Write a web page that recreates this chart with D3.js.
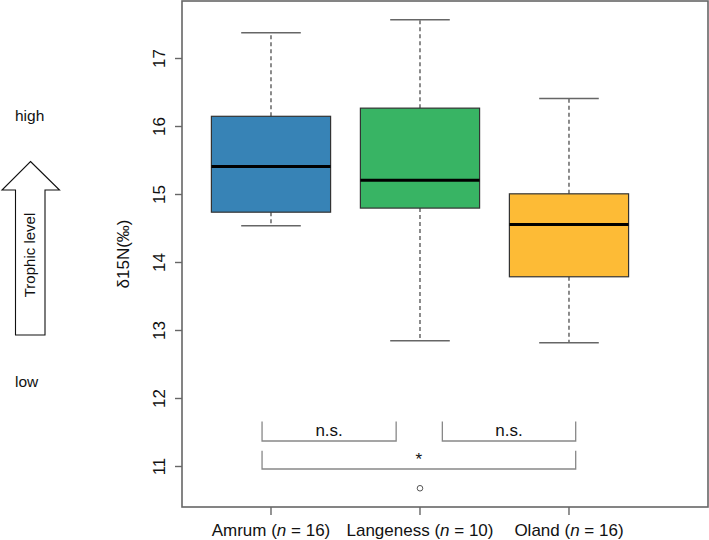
<!DOCTYPE html>
<html><head><meta charset="utf-8">
<script src="https://cdn.jsdelivr.net/npm/d3@7"></script>
<style>body{margin:0;background:#fff}svg{display:block}text{font-family:"Liberation Sans",Arial,sans-serif}</style>
</head><body><svg id="c" width="709" height="540"></svg>
<script>
// ---- data ----
const categories = ["Amrum", "Langeness", "Oland"];
const sampleSizes = [16, 10, 16];
const whiskerLow  = [14.54, 12.85, 12.82];
const q1          = [14.74, 14.80, 13.79];
const medians     = [15.41, 15.21, 14.56];
const q3          = [16.15, 16.27, 15.01];
const whiskerHigh = [17.38, 17.57, 16.41];
const outliers    = [[], [10.68], []];
const boxColors   = ["#3783b6", "#38b464", "#fdbb36"];
const yTicks      = [11, 12, 13, 14, 15, 16, 17];
// significance brackets: [from category pos, to category pos, label, top value, bar value]
const brackets = [
  [0.94, 1.84, "n.s.", 11.66, 11.375],
  [2.15, 3.045, "n.s.", 11.66, 11.375],
  [0.94, 3.045, "*", 11.23, 10.963]
];

const svg = d3.select("#c");
const L = 182, R = 708, T = 1, B = 507;

const allVals = whiskerLow.concat(whiskerHigh, outliers.flat());
const lo = d3.min(allVals), hi = d3.max(allVals), ext = (hi - lo) * 0.04;
const y = d3.scaleLinear().domain([lo - ext, hi + ext]).range([B, T]);
const x = d3.scaleLinear().domain([0.4027, 3.933]).range([L, R]);
const bw = 0.4, cap = 0.2;

// boxes
categories.forEach((c, i) => {
  const p = i + 1;
  const g = svg.append("g");
  // whiskers dashed
  g.append("line").attr("x1", x(p)).attr("x2", x(p)).attr("y1", y(q3[i])).attr("y2", y(whiskerHigh[i]))
    .attr("stroke", "#666").attr("stroke-width", 1.5).attr("stroke-dasharray", "4,3");
  g.append("line").attr("x1", x(p)).attr("x2", x(p)).attr("y1", y(q1[i])).attr("y2", y(whiskerLow[i]))
    .attr("stroke", "#666").attr("stroke-width", 1.5).attr("stroke-dasharray", "4,3");
  // caps
  [whiskerHigh[i], whiskerLow[i]].forEach(v => {
    g.append("line").attr("x1", x(p - cap)).attr("x2", x(p + cap)).attr("y1", y(v)).attr("y2", y(v))
      .attr("stroke", "#666").attr("stroke-width", 1.5);
  });
  // box
  g.append("rect").attr("x", x(p - bw)).attr("width", x(p + bw) - x(p - bw))
    .attr("y", y(q3[i])).attr("height", y(q1[i]) - y(q3[i]))
    .attr("fill", boxColors[i]).attr("stroke", "#333").attr("stroke-width", 1.2);
  // median
  g.append("line").attr("x1", x(p - bw)).attr("x2", x(p + bw)).attr("y1", y(medians[i])).attr("y2", y(medians[i]))
    .attr("stroke", "#000").attr("stroke-width", 3);
  // outliers
  outliers[i].forEach(v => {
    g.append("circle").attr("cx", x(p)).attr("cy", y(v)).attr("r", 2.8)
      .attr("fill", "#fff").attr("stroke", "#555").attr("stroke-width", 1);
  });
});

// brackets
brackets.forEach(b => {
  const [a, e, lab, top, bar] = b;
  svg.append("path")
    .attr("d", `M${x(a)},${y(top)}V${y(bar)}H${x(e)}V${y(top)}`)
    .attr("fill", "none").attr("stroke", "#888").attr("stroke-width", 1.3);
  svg.append("text").attr("x", (x(a) + x(e)) / 2)
    .attr("y", lab === "*" ? y(top) + 14 : y(top) + 14.5)
    .attr("text-anchor", "middle").attr("font-size", 17).attr("fill", "#111").text(lab);
});

// frame
svg.append("rect").attr("x", L).attr("y", T).attr("width", R - L).attr("height", B - T)
  .attr("fill", "none").attr("stroke", "#666").attr("stroke-width", 1.6);

// y axis ticks + labels
yTicks.forEach(t => {
  svg.append("line").attr("x1", L - 7).attr("x2", L).attr("y1", y(t)).attr("y2", y(t))
    .attr("stroke", "#666").attr("stroke-width", 1.4);
  svg.append("text").attr("transform", `translate(165,${y(t)}) rotate(-90)`)
    .attr("text-anchor", "middle").attr("font-size", 17).attr("fill", "#111").text(t);
});
svg.append("text").attr("transform", `translate(129,${(T + B) / 2}) rotate(-90)`)
  .attr("text-anchor", "middle").attr("font-size", 17).attr("fill", "#111").text("δ15N(‰)");

// x axis ticks + labels
categories.forEach((c, i) => {
  const p = i + 1;
  svg.append("line").attr("x1", x(p)).attr("x2", x(p)).attr("y1", B).attr("y2", B + 8)
    .attr("stroke", "#666").attr("stroke-width", 1.4);
  const t = svg.append("text").attr("x", x(p)).attr("y", 536).attr("text-anchor", "middle")
    .attr("font-size", 17).attr("fill", "#111");
  t.append("tspan").text(c + " (");
  t.append("tspan").attr("font-style", "italic").text("n");
  t.append("tspan").text(" = " + sampleSizes[i] + ")");
});

// trophic level annotation
svg.append("text").attr("x", 15).attr("y", 120.5).attr("font-size", 15.5).attr("fill", "#111").text("high");
svg.append("text").attr("x", 15).attr("y", 387).attr("font-size", 15.5).attr("fill", "#111").text("low");
svg.append("path").attr("d", "M30.5,161.5L59.5,190H45V335H15.5V190H2Z")
  .attr("fill", "#fff").attr("stroke", "#111").attr("stroke-width", 1.1);
svg.append("text").attr("transform", "translate(34.5,255) rotate(-90)").attr("text-anchor", "middle")
  .attr("font-size", 15).attr("fill", "#111").text("Trophic level");
</script></body></html>
